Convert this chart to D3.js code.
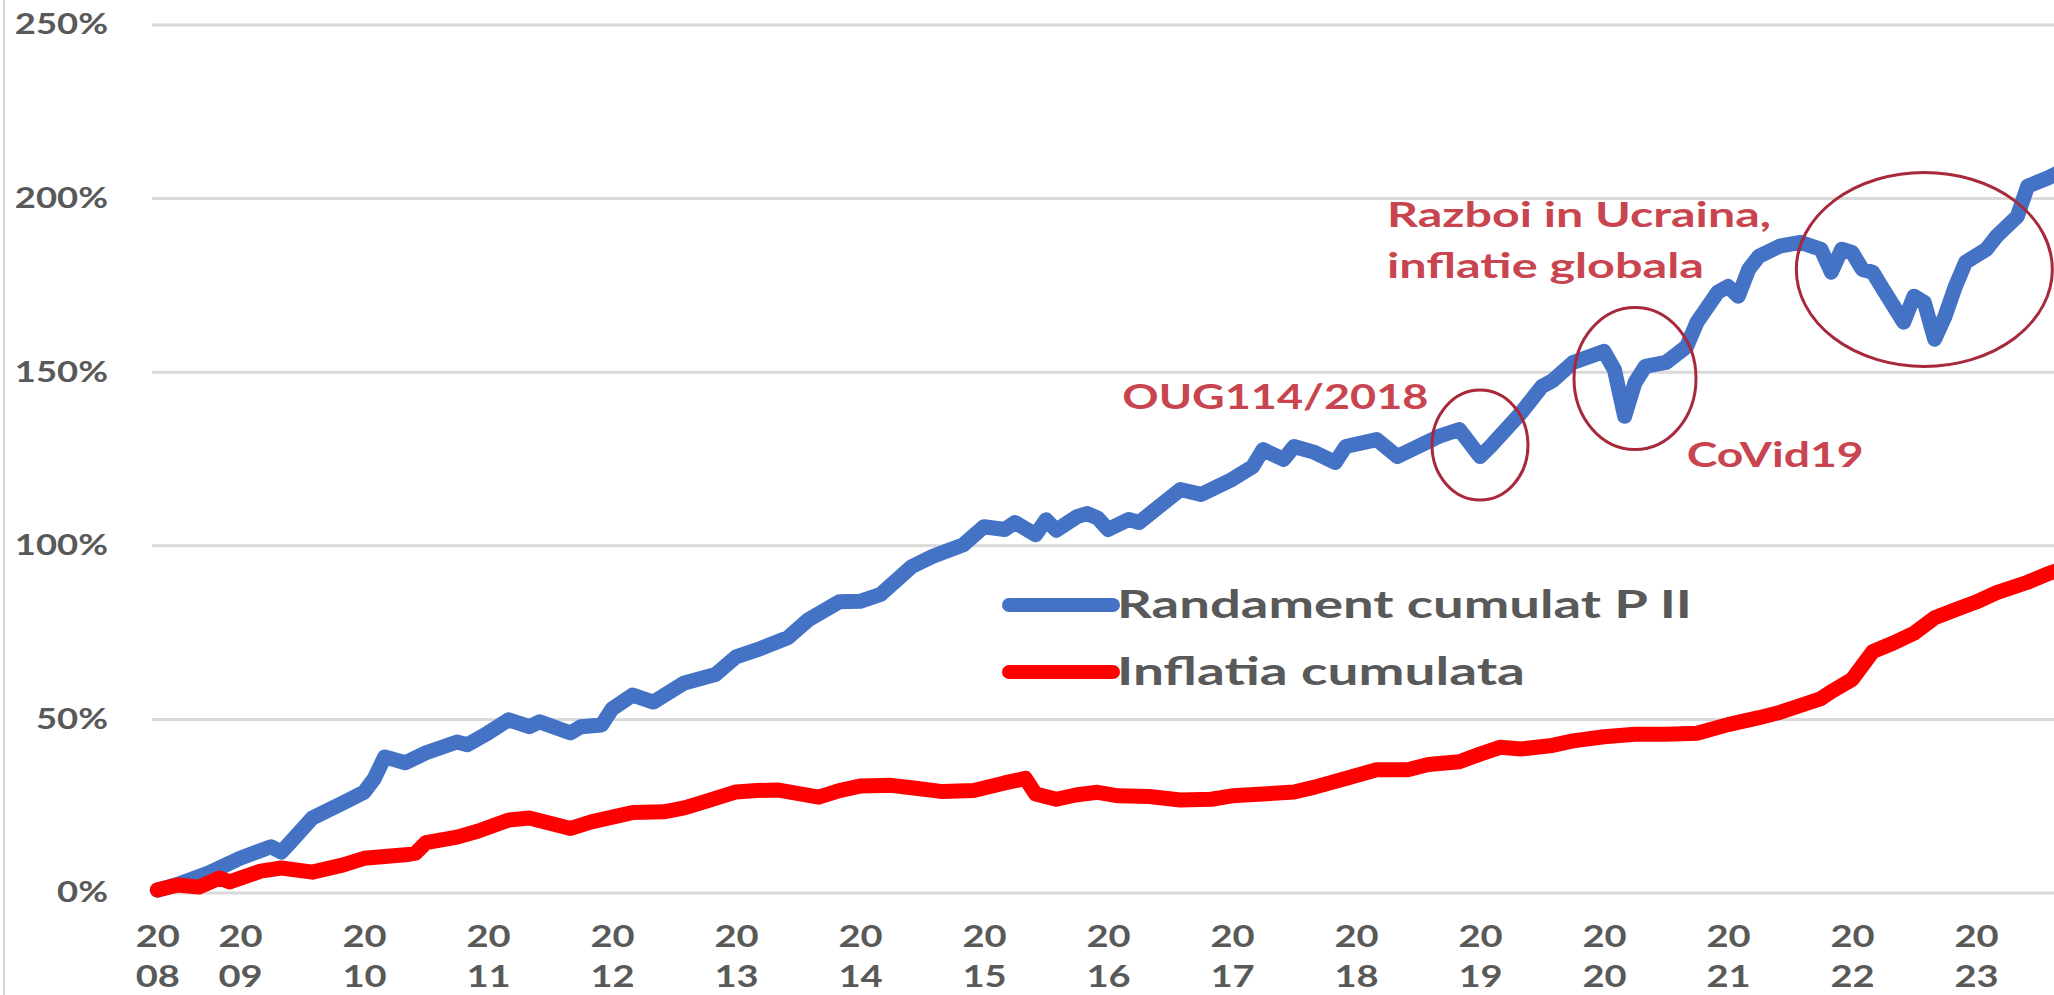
<!DOCTYPE html>
<html>
<head>
<meta charset="utf-8">
<script src="https://cdn.jsdelivr.net/npm/d3@7"></script>
<style>
  body { margin: 0; background: #fff; }
  svg { display: block; font-family: Lato, "Open Sans", sans-serif; }
</style>
</head>
<body>
<div id="chart"></div>
<script>
// monthly readings, cumulative % since May 2008
const blueDates = ["2008-05","2008-07","2008-10","2009-01","2009-04","2009-05","2009-06","2009-08","2009-11","2010-01",
  "2010-02","2010-03","2010-05","2010-07","2010-10","2010-11","2011-01","2011-03","2011-05","2011-06",
  "2011-09","2011-10","2011-12","2012-01","2012-03","2012-05","2012-08","2012-11","2013-01","2013-03",
  "2013-06","2013-08","2013-11","2014-01","2014-03","2014-06","2014-08","2014-11","2015-01","2015-03",
  "2015-04","2015-06","2015-07","2015-08","2015-10","2015-11","2015-12","2016-01","2016-03","2016-04",
  "2016-08","2016-10","2017-01","2017-03","2017-04","2017-06","2017-07","2017-09","2017-11","2017-12",
  "2018-03","2018-05","2018-07","2018-09","2018-11","2019-01","2019-02","2019-05","2019-07","2019-08",
  "2019-10","2020-01","2020-02","2020-03","2020-04","2020-05","2020-07","2020-09","2020-10","2020-12",
  "2021-01","2021-02","2021-03","2021-04","2021-06","2021-08","2021-10","2021-11","2021-12","2022-01",
  "2022-02","2022-03","2022-04","2022-06","2022-07","2022-08","2022-09","2022-10","2022-11","2022-12",
  "2023-02","2023-03","2023-05","2023-06","2023-08","2023-09"];
const blueValues = [0.8, 2.5, 5.8, 10, 13.3, 11.8, 15, 21.6, 26, 29,
  33, 39.2, 37.5, 40.4, 43.5, 42.7, 46.1, 49.9, 47.9, 49.3,
  46.1, 47.9, 48.4, 53, 57, 55, 60.5, 62.9, 68, 70,
  73.5, 78.7, 83.9, 84, 86, 94, 96.9, 100.3, 105.5, 104.7,
  106.7, 103.2, 107.5, 104.5, 108.4, 109.3, 108, 104.7, 107.6, 106.7,
  116.2, 114.8, 119.1, 122.8, 127.7, 124.9, 128.6, 126.9, 124, 128.6,
  130.6, 125.7, 128.6, 131.5, 133.5, 125.7, 128.6, 138.4, 145.9, 147.5,
  152.8, 156, 150.8, 137.3, 147, 151.7, 152.8, 157.4, 164.4, 173,
  174.7, 171.9, 179.6, 183.4, 186.3, 187.4, 185.4, 178.8, 185.4, 184.5,
  179.6, 178.8, 173.9, 164.4, 171.9, 170.1, 159.5, 166.1, 174.7, 181.7,
  185.4, 189.2, 194.9, 203.6, 206, 207.5];

const redDates = ["2008-05","2008-07","2008-09","2008-11","2008-12","2009-03","2009-05","2009-08","2009-11","2010-01",
  "2010-05","2010-06","2010-07","2010-10","2010-12","2011-03","2011-05","2011-09","2011-11","2012-02",
  "2012-03","2012-06","2012-08","2012-10","2013-01","2013-03","2013-05","2013-09","2013-11","2014-01",
  "2014-04","2014-06","2014-09","2014-12","2015-03","2015-05","2015-06","2015-08","2015-10","2015-12",
  "2016-02","2016-05","2016-08","2016-11","2017-01","2017-04","2017-07","2017-09","2017-12","2018-03",
  "2018-06","2018-08","2018-11","2019-01","2019-03","2019-05","2019-08","2019-10","2020-01","2020-04",
  "2020-07","2020-10","2021-01","2021-04","2021-06","2021-08","2021-10","2021-11","2022-01","2022-03",
  "2022-05","2022-07","2022-09","2022-11","2023-01","2023-03","2023-06","2023-08","2023-09"];
const redValues = [0.9, 2.3, 1.7, 4.3, 3.2, 6.3, 7.2, 6, 8.1, 10,
  11, 11.5, 14.5, 16.1, 17.8, 21, 21.6, 18.6, 20.5, 22.5,
  23.2, 23.4, 24.5, 26.3, 29.1, 29.5, 29.7, 27.6, 29.5, 30.8,
  31, 30.3, 29.2, 29.5, 31.7, 33, 28.5, 27, 28.3, 29,
  28, 27.8, 26.8, 27, 28, 28.5, 29.1, 30.5, 33, 35.5,
  35.5, 37, 37.8, 40, 42, 41.5, 42.5, 43.8, 45, 45.7,
  45.7, 46, 48.5, 50.5, 52, 54, 56, 58, 61.5, 69.5,
  72, 74.8, 79.3, 81.6, 83.8, 86.5, 89.5, 92, 93];

const seriesNames = ["Randament cumulat P II", "Inflatia cumulata"];
const seriesColors = ["#4472c4", "#ff0000"];

const tickDates = ["2008-05","2009-01","2010-01","2011-01","2012-01","2013-01","2014-01","2015-01",
  "2016-01","2017-01","2018-01","2019-01","2020-01","2021-01","2022-01","2023-01"];
const tickLabels = ["2008","2009","2010","2011","2012","2013","2014","2015",
  "2016","2017","2018","2019","2020","2021","2022","2023"];
const yTicks = [0, 50, 100, 150, 200, 250];

// annotations
const noteTexts = [["OUG114/2018"], ["Razboi in Ucraina,", "inflatie globala"], ["CoVid19"]];
const noteDates = ["2018-08", "2018-04", "2020-09"];
const noteValues = [139.3, 191.7, 122.8];
const circleDates = ["2019-01", "2020-04", "2022-08"];
const circleValues = [129, 148.2, 179.6];

const width = 2054, height = 995;
const toYear = s => { const [yy, mm] = s.split("-").map(Number); return yy + (mm - 1) / 12; };

const svg = d3.select("#chart").append("svg")
  .attr("width", width)
  .attr("height", height);

svg.append("rect").attr("width", width).attr("height", height).attr("fill", "#fff");

const x = d3.scaleLinear().domain([2009, 2023]).range([240, 1976]);
const y = d3.scaleLinear().domain([0, 250]).range([893, 25]);

function stretch(sel, k) {
  sel.each(function () {
    const w = this.getComputedTextLength();
    d3.select(this).attr("textLength", w * k).attr("lengthAdjust", "spacingAndGlyphs");
  });
}

// frame line on the left
svg.append("line")
  .attr("x1", 4).attr("x2", 4).attr("y1", 0).attr("y2", height)
  .attr("stroke", "#d4d4d4").attr("stroke-width", 2);

// gridlines
svg.append("g")
  .selectAll("line")
  .data(yTicks)
  .join("line")
  .attr("x1", 152).attr("x2", width)
  .attr("y1", d => y(d)).attr("y2", d => y(d))
  .attr("stroke", "#d9d9d9").attr("stroke-width", 3);

// y axis
const yAxis = svg.append("g")
  .attr("transform", "translate(152,0)")
  .call(d3.axisLeft(y).tickValues(yTicks).tickSize(0).tickPadding(44).tickFormat(d => d + "%"));
yAxis.select(".domain").remove();
yAxis.selectAll("text")
  .attr("font-family", "Lato, sans-serif")
  .attr("font-size", 28)
  .attr("font-weight", "bold")
  .attr("fill", "#595959")
  .call(stretch, 1.3);

// x axis, two-line year labels
const xAxis = svg.append("g")
  .attr("transform", "translate(0,893)")
  .call(d3.axisBottom(x).tickValues(tickDates.map(toYear)).tickSize(0).tickFormat((d, i) => tickLabels[i]));
xAxis.select(".domain").remove();
xAxis.selectAll("text")
  .attr("dy", null)
  .attr("font-family", "Lato, sans-serif")
  .attr("font-size", 30)
  .attr("font-weight", "bold")
  .attr("fill", "#595959")
  .each(function () {
    const t = d3.select(this);
    const label = t.text();
    t.text(null);
    t.append("tspan").attr("x", 0).attr("y", 54).text(label.slice(0, 2));
    t.append("tspan").attr("x", 0).attr("y", 94).text(label.slice(2));
  });
xAxis.selectAll("tspan").call(stretch, 1.27);

// series
const line = d3.line().x(d => x(toYear(d[0]))).y(d => y(d[1]));
const series = [d3.zip(blueDates, blueValues), d3.zip(redDates, redValues)];

svg.append("g")
  .selectAll("path")
  .data(series)
  .join("path")
  .attr("d", line)
  .attr("fill", "none")
  .attr("stroke", (d, i) => seriesColors[i])
  .attr("stroke-width", 15)
  .attr("stroke-linejoin", "round")
  .attr("stroke-linecap", "round");

// legend
const legendWidths = [575, 408];
const legend = svg.append("g")
  .selectAll("g")
  .data(seriesNames)
  .join("g")
  .attr("transform", (d, i) => `translate(1009,${605 + i * 67})`);
legend.append("line")
  .attr("x1", 0).attr("x2", 104)
  .attr("stroke", (d, i) => seriesColors[i])
  .attr("stroke-width", 14)
  .attr("stroke-linecap", "round");
legend.append("text")
  .attr("x", 108)
  .attr("y", 13)
  .attr("font-size", 39)
  .attr("font-weight", "bold")
  .attr("fill", "#595959")
  .attr("textLength", (d, i) => legendWidths[i])
  .attr("lengthAdjust", "spacingAndGlyphs")
  .text(d => d);

// event circles and labels
svg.append("g")
  .selectAll("ellipse")
  .data(d3.zip(circleDates, circleValues))
  .join("ellipse")
  .attr("cx", d => x(toYear(d[0])))
  .attr("cy", d => y(d[1]))
  .attr("rx", (d, i) => [48, 61, 128][i])
  .attr("ry", (d, i) => [55, 71, 97][i])
  .attr("fill", "none")
  .attr("stroke", "#a8283c")
  .attr("stroke-width", 3);

const noteWidths = [[306], [384, 317], [177]];
const notes = svg.append("g")
  .selectAll("text")
  .data(noteTexts)
  .join("text")
  .attr("font-size", 34)
  .attr("font-weight", "bold")
  .attr("fill", "#c8454f")
  .attr("text-anchor", (d, i) => i === 0 ? "end" : "start");
notes.selectAll("tspan")
  .data((d, i) => d.map((s, j) => ({ s, j, i })))
  .join("tspan")
  .attr("x", d => x(toYear(noteDates[d.i])))
  .attr("y", d => y(noteValues[d.i]) + d.j * 51)
  .attr("textLength", d => noteWidths[d.i][d.j])
  .attr("lengthAdjust", "spacingAndGlyphs")
  .text(d => d.s);
</script>
</body>
</html>
